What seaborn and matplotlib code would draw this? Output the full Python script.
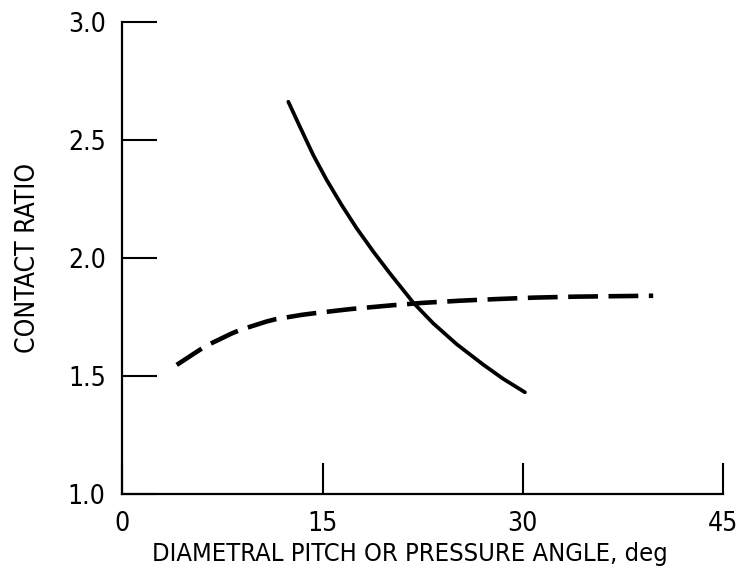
import matplotlib
matplotlib.use("Agg")
import matplotlib.pyplot as plt
import seaborn as sns
import pandas as pd


# ---------------------------------------------
# Данные
# ---------------------------------------------
solid_x = [12.43, 13.30, 14.30, 15.30, 16.42, 17.55, 18.80, 20.04,
           21.79, 23.29, 25.04, 27.04, 28.53, 30.16]
solid_y = [2.662, 2.556, 2.436, 2.331, 2.225, 2.126, 2.027, 1.935,
           1.811, 1.723, 1.635, 1.548, 1.488, 1.431]

dash_x = [4.07, 5.69, 6.31, 8.18, 8.86, 10.81, 11.51, 13.43, 14.25, 16.22,
          17.17, 19.30, 20.29, 22.54, 25.29, 28.04, 30.78, 33.78, 36.65, 39.77]
dash_y = [1.547, 1.607, 1.629, 1.680, 1.696, 1.731, 1.741, 1.759, 1.765, 1.778,
          1.784, 1.795, 1.800, 1.810, 1.819, 1.826, 1.832, 1.836, 1.838, 1.840]

x_ticks = [0, 15, 30, 45]
y_ticks = [1.0, 1.5, 2.0, 2.5, 3.0]

x_label = "DIAMETRAL PITCH OR PRESSURE ANGLE, deg"
y_label = "CONTACT RATIO"


def create_graph():

    sns.set_style("ticks")
    plt.rcParams["font.family"] = ["DejaVu Sans"]
    plt.rcParams["font.stretch"] = "condensed"
    plt.rcParams["text.color"] = "black"
    plt.rcParams["axes.labelcolor"] = "black"

    fig = plt.figure(figsize=(7.37, 5.78), dpi=100)
    ax = fig.add_axes([0.1661, 0.1453, 0.8149, 0.8167])

    solid = pd.DataFrame({"x": solid_x, "y": solid_y})
    dashed = pd.DataFrame({"x": dash_x, "y": dash_y})

    sns.lineplot(data=solid, x="x", y="y", ax=ax, color="black",
                 linewidth=2.7, sort=False)
    sns.lineplot(data=dashed, x="x", y="y", ax=ax, color="black",
                 linewidth=3.3, sort=False)
    ax.lines[-1].set_dashes([6.5, 2.3])
    ax.lines[-1].set_dash_capstyle("butt")

    ax.set_xlim(0, 45)
    ax.set_ylim(1.0, 3.0)
    ax.set_xticks(x_ticks)
    ax.set_yticks(y_ticks)
    ax.set_xticklabels([str(t) for t in x_ticks])
    ax.set_yticklabels([f"{t:.1f}" for t in y_ticks])

    ax.tick_params(axis="x", direction="in", length=22, width=1.5,
                   pad=12, labelsize=19, colors="black")
    ax.tick_params(axis="y", direction="in", length=25, width=1.5,
                   pad=12, labelsize=19, colors="black")

    sns.despine(ax=ax)
    for side in ["left", "bottom"]:
        ax.spines[side].set_linewidth(1.6)
        ax.spines[side].set_color("black")

    ax.set_xlabel(x_label, fontsize=18.3, labelpad=4)
    ax.xaxis.label.set_x(0.479)
    ax.set_ylabel(y_label, fontsize=19, labelpad=19)

    fig.savefig("out.png", dpi=100)


if __name__ == "__main__":
    create_graph()
